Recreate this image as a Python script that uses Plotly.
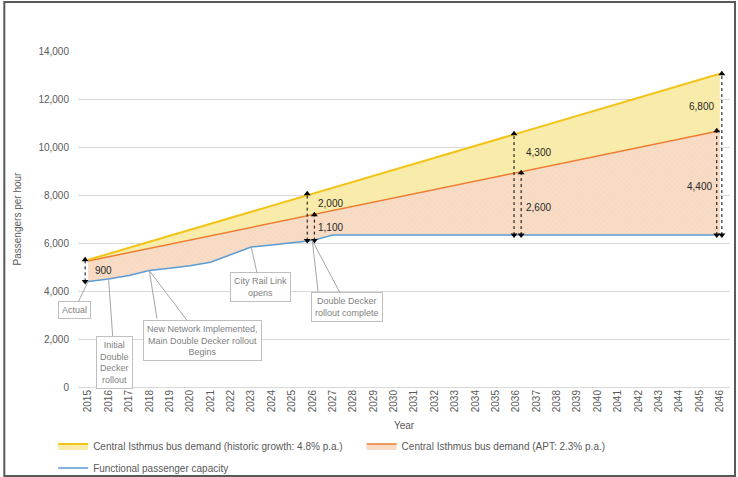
import plotly.graph_objects as go

# Dados
anos = list(range(2015, 2047))
demanda_historica = [5300, 5550, 5800, 6050, 6300, 6550, 6800, 7050, 7300, 7550, 7800,
                     8050, 8300, 8550, 8800, 9050, 9300, 9550, 9800, 10050, 10300, 10550,
                     10800, 11050, 11300, 11550, 11800, 12050, 12300, 12550, 12800, 13050]
demanda_apt = [5250, 5425, 5600, 5775, 5950, 6125, 6300, 6475, 6650, 6825, 7000,
               7175, 7350, 7525, 7700, 7875, 8050, 8225, 8400, 8575, 8750, 8925,
               9100, 9275, 9450, 9625, 9800, 9975, 10150, 10325, 10500, 10675]
capacidade = [4400, 4500, 4650, 4850, 4950, 5050, 5200, 5500, 5830, 5920, 6000,
              6100, 6330, 6330, 6330, 6330, 6330, 6330, 6330, 6330, 6330, 6330,
              6330, 6330, 6330, 6330, 6330, 6330, 6330, 6330, 6330, 6330]

nome_hist = "Central Isthmus bus demand (historic growth: 4.8% p.a.)"
nome_apt = "Central Isthmus bus demand (APT: 2.3% p.a.)"
nome_cap = "Functional passenger capacity"

# setas de diferença: (ano, série do topo, texto)
setas_anos = [2015, 2026, 2026, 2036, 2036, 2046, 2046]
setas_topo = ["hist", "hist", "apt", "hist", "apt", "hist", "apt"]
setas_texto = ["900", "2,000", "1,100", "4,300", "2,600", "6,800", "4,400"]

# caixas de comentário: (ano, texto)
notas_anos = [2015, 2016, 2018, 2023, 2026]
notas_texto = ["Actual", "Initial<br>Double<br>Decker<br>rollout",
               "New Network Implemented,<br>Main Double Decker rollout<br>Begins",
               "City Rail Link<br>opens", "Double Decker<br>rollout complete"]

series = {"hist": demanda_historica, "apt": demanda_apt}

fig = go.Figure()

fig.add_trace(go.Scatter(x=anos, y=capacidade, mode='lines',
                         line=dict(color='#5b9bd5', width=1.5),
                         name=nome_cap, legend='legend2'))
fig.add_trace(go.Scatter(x=anos, y=demanda_apt, mode='lines', fill='tonexty',
                         fillcolor='#f8dcc6',
                         fillpattern=dict(shape='x', size=4, solidity=0.12,
                                          fgcolor='rgba(230,150,100,0.45)', bgcolor='#f8dcc6'),
                         line=dict(color='#ed7d31', width=1.5),
                         name=nome_apt, legend='legend3'))
fig.add_trace(go.Scatter(x=anos, y=demanda_historica, mode='lines', fill='tonexty',
                         fillcolor='#f9ecab',
                         line=dict(color='#f2c419', width=2),
                         name=nome_hist, legend='legend'))

# deslocamentos horizontais e posição do rótulo (fração da seta)
desloc = [-0.15, -0.25, 0.1, -0.1, 0.25, 0.1, -0.15]
frac_rot = [0.5, 0.8, 0.5, 0.82, 0.45, 0.8, 0.47]
desloc_rot = [0.25, 0.2, 0.2, 0.4, 0.4, -0.2, -0.3]

for i in range(len(setas_anos)):
    k = anos.index(setas_anos[i])
    base = capacidade[k]
    topo = series[setas_topo[i]][k]
    xs = setas_anos[i] + desloc[i]
    fig.add_trace(go.Scatter(x=[xs, xs], y=[base, topo], mode='lines+markers',
                             line=dict(color='black', width=1, dash='dot'),
                             marker=dict(symbol=['triangle-down', 'triangle-up'], size=6, color='black'),
                             showlegend=False, hoverinfo='skip'))
    fig.add_annotation(x=setas_anos[i] + desloc_rot[i], y=base + frac_rot[i] * (topo - base),
                       text=setas_texto[i], showarrow=False,
                       xanchor='left' if desloc_rot[i] > 0 else 'right',
                       font=dict(size=10, color='#262626'))

# caixas com linhas de chamada (ax, ay em pixels)
caixa_off = [(-14, 29), (6, 83), (53, 70), (9, 40), (35, 66)]
extra_linhas = {2018: (8, 50), 2026: (6, 53)}
for i in range(len(notas_anos)):
    k = anos.index(notas_anos[i])
    fig.add_annotation(x=notas_anos[i], y=capacidade[k], text=notas_texto[i],
                       showarrow=True, arrowhead=0, arrowwidth=1, arrowcolor='#a6a6a6',
                       ax=caixa_off[i][0], ay=caixa_off[i][1],
                       font=dict(size=9, color='#7f7f7f'), bgcolor='white',
                       bordercolor='#bfbfbf', borderwidth=1, borderpad=3)
    if notas_anos[i] in extra_linhas:
        ax, ay = extra_linhas[notas_anos[i]]
        fig.add_annotation(x=notas_anos[i], y=capacidade[k], text=" ",
                           showarrow=True, arrowhead=0, arrowwidth=1, arrowcolor='#a6a6a6',
                           ax=ax, ay=ay, font=dict(size=1))

# moldura externa
fig.add_shape(type='rect', xref='paper', yref='paper',
              x0=-0.113, x1=1.0077, y0=-0.265, y1=1.146,
              line=dict(color='#595959', width=2), layer='above')

leg_base = dict(orientation='h', xanchor='left', yanchor='middle',
                xref='container', yref='container',
                font=dict(size=10, color='#595959'), bgcolor='rgba(0,0,0,0)')

fig.update_layout(
    width=738, height=477, autosize=False,
    margin=dict(l=78, r=8, t=51, b=90, autoexpand=False),
    paper_bgcolor='white', plot_bgcolor='white',
    font=dict(family='Liberation Sans, Arial, sans-serif', size=10, color='#595959'),
    xaxis=dict(tickvals=anos, ticktext=[str(a) for a in anos], tickangle=-90,
               range=[2014.5, 2046.5], showgrid=False, zeroline=False, showline=False,
               tickfont=dict(size=10, color='#595959'),
               title=dict(text='Year', font=dict(size=10, color='#595959'), standoff=12)),
    yaxis=dict(range=[0, 14000], dtick=2000, tickformat=',', showgrid=True,
               gridcolor='#d9d9d9', zeroline=True, zerolinecolor='#d9d9d9', zerolinewidth=1,
               showline=False, ticklabelstandoff=8,
               tickfont=dict(size=10, color='#595959'),
               title=dict(text='Passengers per hour', font=dict(size=10, color='#595959'), standoff=14)),
    showlegend=True,
    legend=dict(x=0.072, y=0.065, **leg_base),
    legend3=dict(x=0.49, y=0.065, **leg_base),
    legend2=dict(x=0.072, y=0.019, **leg_base),
)

fig.write_html("out.html", config={'displayModeBar': False},
               post_script="document.body.style.margin='0';")
